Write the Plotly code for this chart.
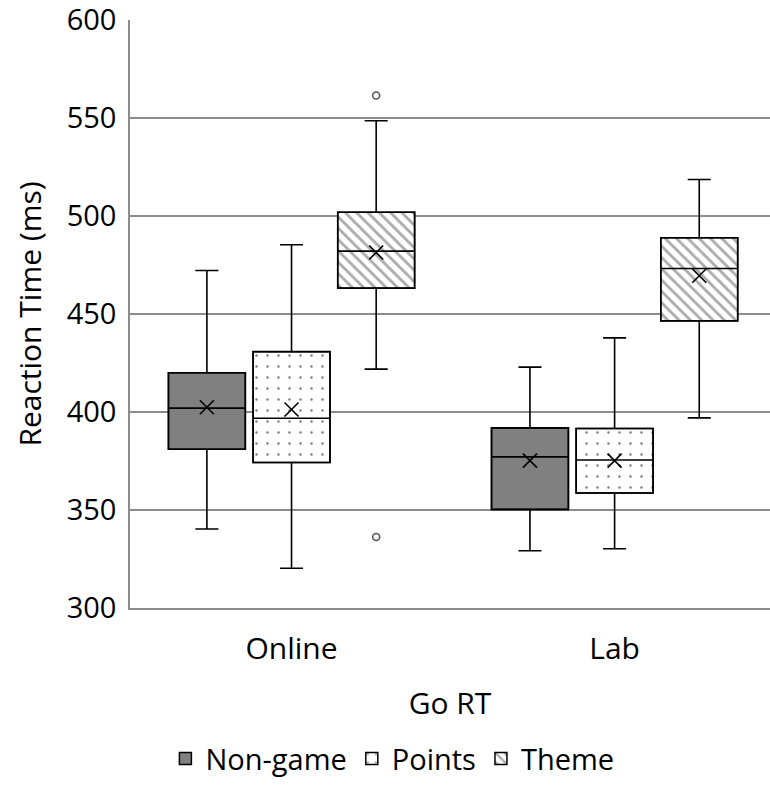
import plotly.graph_objects as go

categories = ["Online", "Lab"]
series = ["Non-game", "Points", "Theme"]

q1 = {"Non-game": [381, 350.3], "Points": [374.2, 358.7], "Theme": [463.2, 446.5]}
median = {"Non-game": [402, 377.1], "Points": [396.8, 375.5], "Theme": [482.1, 473.2]}
q3 = {"Non-game": [420, 391.9], "Points": [430.8, 391.6], "Theme": [501.9, 488.9]}
lower = {"Non-game": [340.3, 329.2], "Points": [320.3, 330.2], "Theme": [421.9, 397]}
upper = {"Non-game": [472.2, 422.9], "Points": [485.3, 437.8], "Theme": [548.6, 518.6]}
mean = {"Non-game": [402.4, 375.2], "Points": [401.3, 375.2], "Theme": [481.4, 469.5]}
outliers_theme_online = [561.5, 336.2]

offsets = {"Non-game": -0.262, "Points": 0.0, "Theme": 0.262}
box_w = 0.238
fills = {
    "Non-game": dict(color="#808080", pattern=dict(shape="")),
    "Points": dict(color="white", pattern=dict(shape=".", fgcolor="black", size=11, solidity=0.04)),
    "Theme": dict(color="white", pattern=dict(shape="\\", fgcolor="#555", size=8, solidity=0.35)),
}

FONT = "Open Sans"
fig = go.Figure()
cat_pos = list(range(len(categories)))

for s in series:
    xs = [c + offsets[s] for c in cat_pos]
    heights = [b - a for a, b in zip(q1[s], q3[s])]
    fig.add_trace(go.Bar(
        x=xs, y=heights, base=q1[s], width=box_w, name=s,
        marker=dict(color=fills[s]["color"], pattern=fills[s]["pattern"],
                    line=dict(color="black", width=1.5)),
        showlegend=True, hoverinfo="skip",
    ))
    fig.add_trace(go.Box(
        x=xs, q1=q1[s], median=median[s], q3=q3[s],
        lowerfence=lower[s], upperfence=upper[s],
        width=box_w, whiskerwidth=0.3,
        fillcolor="rgba(0,0,0,0)", line=dict(color="black", width=1.6),
        showlegend=False, boxpoints=False,
    ))
    fig.add_trace(go.Scatter(
        x=xs, y=mean[s], mode="markers",
        marker=dict(symbol="x-thin", size=14, line=dict(color="black", width=1.6)),
        showlegend=False, hoverinfo="skip",
    ))

fig.add_trace(go.Scatter(
    x=[cat_pos[0] + offsets["Theme"]] * len(outliers_theme_online),
    y=outliers_theme_online, mode="markers",
    marker=dict(symbol="circle", size=7, color="white", line=dict(color="#555", width=1.6)),
    showlegend=False, hoverinfo="skip",
))

fig.update_layout(
    width=770, height=786,
    margin=dict(l=130, r=0, t=20, b=178, autoexpand=False),
    plot_bgcolor="white", paper_bgcolor="white",
    barmode="overlay", boxmode="overlay",
    font=dict(family=FONT, size=30, color="black"),
    xaxis=dict(
        range=[-0.5, 1.481], tickvals=cat_pos, ticktext=categories,
        showgrid=False, zeroline=False, showline=True, mirror=False,
        linecolor="#8c8c8c", linewidth=1.5, ticks="", automargin=False,
        ticklabelstandoff=13,
        title=dict(text="Go RT", standoff=26, font=dict(size=30)), tickfont=dict(size=30),
    ),
    yaxis=dict(
        range=[300, 600], dtick=50, showgrid=True, gridcolor="#8c8c8c", gridwidth=1.5,
        zeroline=False, showline=True, linecolor="#8c8c8c", linewidth=1.5, ticks="",
        automargin=False, ticklabeloverflow="allow", ticklabelstandoff=6,
        title=dict(text="Reaction Time (ms)", standoff=16, font=dict(size=30)), tickfont=dict(size=29),
    ),
    legend=dict(orientation="h", x=0.41, xanchor="center", y=-0.256, yanchor="middle",
                font=dict(size=29), itemwidth=30, traceorder="normal",
                bgcolor="rgba(0,0,0,0)"),
)

fig.write_html(
    "out.html",
    config={"displayModeBar": False},
    post_script="document.body.style.margin='0';document.body.style.padding='0';document.body.style.overflow='hidden';",
)
